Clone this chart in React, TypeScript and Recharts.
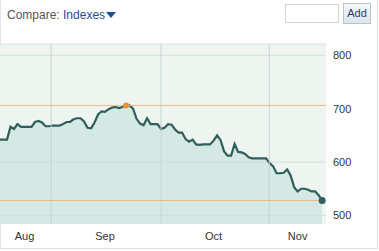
import { ComposedChart, Area, XAxis, YAxis, CartesianGrid, ReferenceLine, ReferenceDot } from 'recharts';

// index closing values, one per trading step
const closes = [
  642, 642, 642, 666, 662, 671, 666, 666, 666, 666,
  675, 677, 674, 667, 667, 668, 668, 668, 671, 675,
  675, 680, 682, 682, 676, 664, 663, 674, 689, 695,
  694, 699, 702, 703, 701, 703, 706, 706, 700, 681,
  672, 669, 682, 671, 671, 671, 662, 664, 671, 670,
  661, 655, 655, 643, 638, 642, 633, 632, 633, 633,
  633, 640, 650, 641, 620, 612, 612, 634, 619, 618,
  615, 609, 607, 607, 607, 607, 607, 598, 592, 579,
  579, 580, 586, 575, 553, 545, 550, 550, 548, 545,
  545, 538, 528,
];

const monthLabels = ['Aug', 'Sep', 'Oct', 'Nov'];
const monthLabelPos = [7, 30, 61, 85];
const monthGridPos = [14.6, 46, 76.9];
const yTicks = [500, 600, 700, 800];

const data = closes.map((v, i) => ({ i, v }));
const maxVal = Math.max(...closes);
const maxIdx = closes.indexOf(maxVal);
const lastIdx = closes.length - 1;
const lastVal = closes[lastIdx];

const font = 'Arial, "Liberation Sans", sans-serif';

export default function App() {
  return (
    <div style={{ position: 'absolute', left: 0, top: 0, width: 379, height: 251, background: '#fff', fontFamily: font }}>
      {/* frame */}
      <div style={{ position: 'absolute', left: 0, top: 0, width: 376, height: 248, borderLeft: '1px solid #e2e6e6', borderRight: '1px solid #dde2e2', borderBottom: '1px solid #dde2e2' }} />

      {/* header */}
      <div style={{ position: 'absolute', left: 7, top: 8, fontSize: 12, color: '#555' }}>
        Compare: <span style={{ color: '#1f4f8a' }}>Indexes</span>
        <span style={{ display: 'inline-block', width: 0, height: 0, borderLeft: '5px solid transparent', borderRight: '5px solid transparent', borderTop: '6px solid #1f4f8a', marginLeft: 1, verticalAlign: 1 }} />
      </div>
      <div style={{ position: 'absolute', left: 285, top: 4, width: 52, height: 17, border: '1px solid #d0d4d4', background: '#fff' }} />
      <div style={{ position: 'absolute', left: 343, top: 3, width: 26, height: 19, border: '1px solid #b8c4cc', background: 'linear-gradient(#f2f6f8, #dde6ec)', fontSize: 11, color: '#1f3f6a', textAlign: 'center', lineHeight: '19px' }}>
        Add
      </div>

      <div style={{ position: 'absolute', left: 0, top: 0 }}>
        <ComposedChart width={379} height={251} data={data} margin={{ top: 44, right: 0, bottom: 0, left: 0 }}>
          <CartesianGrid vertical={false} stroke="#d2e0da" fill="#eef5f1" horizontalValues={[500, 600, 800]} />
          <XAxis
            type="number"
            dataKey="i"
            domain={[0, 93.1]}
            ticks={monthLabelPos}
            tickFormatter={(v: number) => monthLabels[monthLabelPos.indexOf(v)] ?? ''}
            axisLine={false}
            tickLine={false}
            height={27}
            tick={{ fill: '#333', fontSize: 11, fontFamily: font }}
            interval={0}
            tickMargin={2}
          />
          <YAxis
            orientation="right"
            domain={[484, 821]}
            ticks={yTicks}
            axisLine={false}
            tickLine={false}
            width={53}
            tick={{ fill: '#333', fontSize: 11, fontFamily: font, textAnchor: 'start' }}
            tickMargin={1}
          />
          <Area
            type="linear"
            dataKey="v"
            stroke="#2f5e5b"
            strokeWidth={2.2}
            fill="#c9e3de"
            fillOpacity={0.7}
            baseValue="dataMin"
            dot={false}
            activeDot={false}
            isAnimationActive={false}
          />
          {monthGridPos.map((x) => (
            <ReferenceLine key={x} x={x} stroke="#c3d5cf" strokeWidth={1} />
          ))}
          <ReferenceLine y={821} stroke="#d6e2dd" strokeWidth={1} />
          <ReferenceLine y={maxVal} stroke="#efb88a" strokeWidth={1} />
          <ReferenceLine y={lastVal} stroke="#efb88a" strokeWidth={1} />
          <ReferenceDot x={maxIdx} y={maxVal} r={3} fill="#e8913a" stroke="none" />
          <ReferenceDot x={lastIdx} y={lastVal} r={3.5} fill="#2f5e5b" stroke="none" />
        </ComposedChart>
      </div>
    </div>
  );
}
